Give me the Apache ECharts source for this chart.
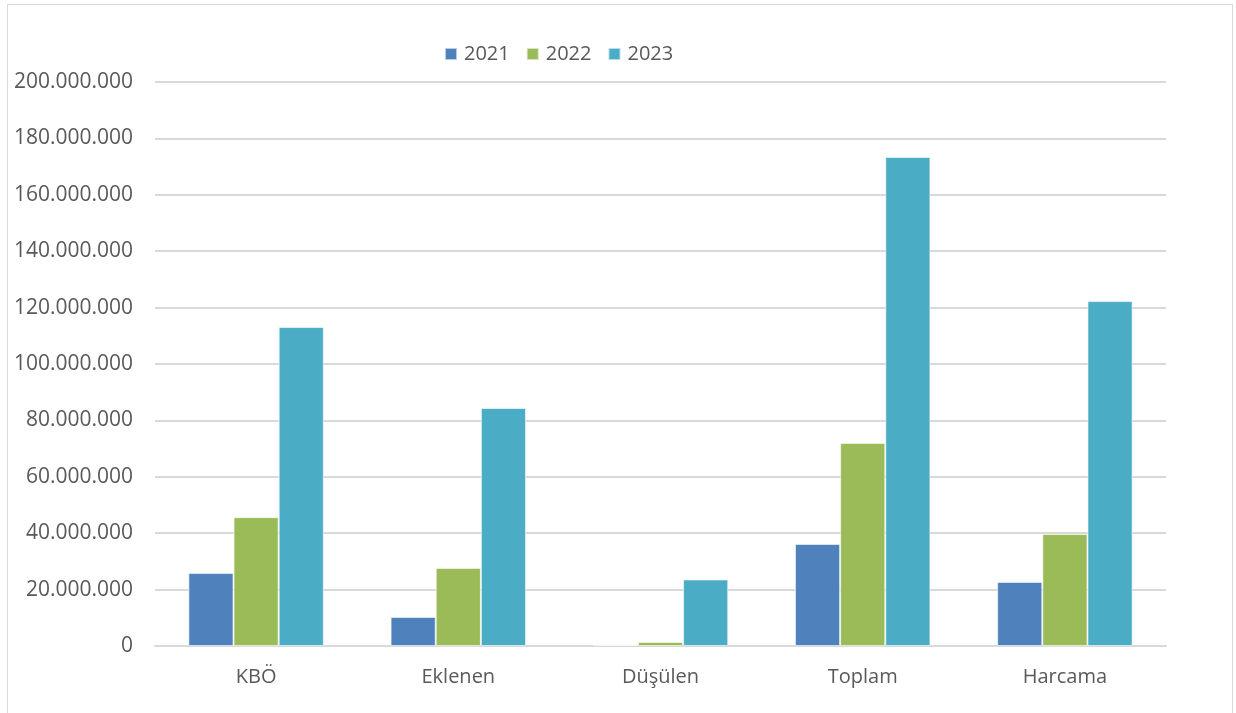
<!DOCTYPE html>
<html><head><meta charset="utf-8">
<script src="https://cdn.jsdelivr.net/npm/echarts@6/dist/echarts.min.js"></script>
<style>html,body{margin:0;padding:0;background:#fff}#c{width:1236px;height:713px}</style>
</head><body><div id="c"></div>
<script>
const categories = ['KBÖ', 'Eklenen', 'Düşülen', 'Toplam', 'Harcama'];
const s2021 = [25900000, 10300000, 400000, 36200000, 22700000];
const s2022 = [45700000, 27700000, 1400000, 72000000, 39700000];
const s2023 = [113100000, 84400000, 23600000, 173400000, 122300000];
const seriesNames = ['2021', '2022', '2023'];
const colors = ['#4F81BD', '#9BBB59', '#4BACC6'];

const font = 'Open Sans, Liberation Sans, sans-serif';
const fmt = v => String(Math.round(v)).replace(/\B(?=(\d{3})+(?!\d))/g, '.');
const chart = echarts.init(document.getElementById('c'));
const data = [s2021, s2022, s2023];
chart.setOption({
  animation: false,
  color: colors,
  graphic: [{type:'rect', shape:{x:7.5,y:4.5,width:1225,height:712}, style:{fill:'none', stroke:'#d9d9d9', lineWidth:1}}],
  legend: {
    top: 39, left: 439, itemWidth: 12, itemHeight: 12, itemGap: 16,
    icon: 'rect',
    textStyle: {fontFamily: font, fontSize: 20, color: '#595959', padding: [0,0,0,2]}
  },
  grid: {left: 155, right: 70, top: 82, bottom: 67, containLabel: false},
  xAxis: {
    type: 'category', data: categories,
    axisLine: {lineStyle: {color: '#d9d9d9', width: 2}},
    axisTick: {show: false},
    axisLabel: {fontFamily: font, fontSize: 20, color: '#595959', margin: 21}
  },
  yAxis: {
    type: 'value', min: 0, max: 200000000, interval: 20000000,
    axisLine: {show: false}, axisTick: {show: false},
    splitLine: {lineStyle: {color: '#d9d9d9', width: 2}},
    axisLabel: {fontFamily: font, fontSize: 21, color: '#595959', margin: 22, formatter: fmt}
  },
  series: seriesNames.map((n, i) => ({
    name: n, type: 'bar', data: data[i],
    barGap: '0%', barCategoryGap: '33%',
    itemStyle: {borderColor: 'rgba(255,255,255,0.6)', borderWidth: 1}
  }))
});
</script></body></html>
